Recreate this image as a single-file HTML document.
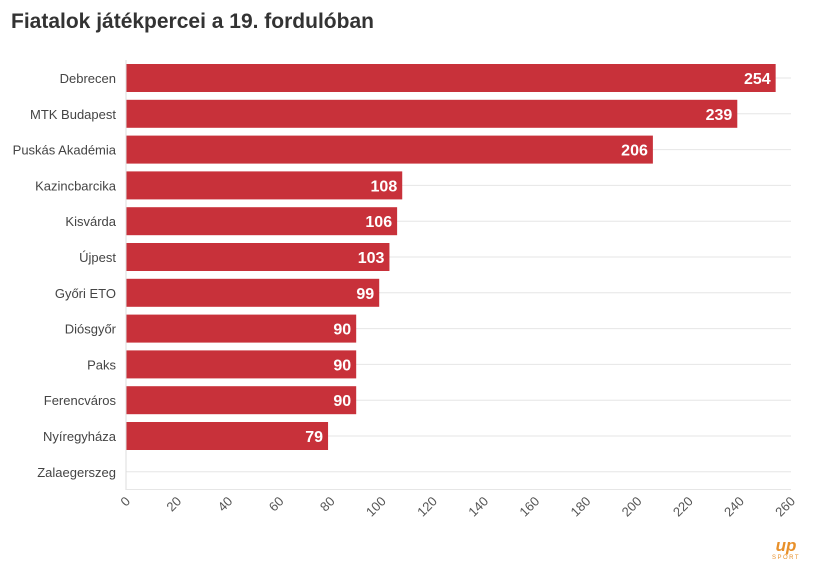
<!DOCTYPE html>
<html><head><meta charset="utf-8"><style>
body{margin:0;background:#fff;width:813px;height:579px;overflow:hidden;font-family:"Liberation Sans",sans-serif}
#title{position:absolute;left:11px;top:10px;font-size:21px;font-weight:bold;color:#333;letter-spacing:0px}
</style></head><body>
<div id="title">Fiatalok játékpercei a 19. fordulóban</div>
<svg id="chart" width="813" height="579" style="position:absolute;left:0;top:0"></svg>
<div style="position:absolute;left:772px;top:538px;color:#e8902a;text-align:center;">
<div style="font-size:17px;font-weight:bold;font-style:italic;line-height:16px">up</div>
<div style="font-size:6px;letter-spacing:1.5px;line-height:8px">SPORT</div></div>
<script>
const categories=["Debrecen","MTK Budapest","Puskás Akadémia","Kazincbarcika","Kisvárda","Újpest","Győri ETO","Diósgyőr","Paks","Ferencváros","Nyíregyháza","Zalaegerszeg"];
const values=[254,239,206,108,106,103,99,90,90,90,79,0];
const ticks=[0,20,40,60,80,100,120,140,160,180,200,220,240,260];
const svg=document.getElementById('chart');
const NS='http://www.w3.org/2000/svg';
const x0=126,x1=791,y0=78,step=35.8;
const xs=v=>x0+(x1-x0)*v/260;
const ys=i=>y0+i*step;
function mk(t,a){const e=document.createElementNS(NS,t);for(const k in a)e.setAttribute(k,a[k]);svg.appendChild(e);return e;}
categories.forEach((c,i)=>{
  const g=mk('line',{x1:x0,x2:x1,y1:ys(i),y2:ys(i),stroke:'#e6e6e6','stroke-width':1});
  
  
  const l=mk('text',{x:116,y:ys(i)+5,'text-anchor':'end','font-size':13,fill:'#444'});
  l.textContent=c;
  
  
  if(values[i]>0){
    const r=mk('rect',{x:x0,y:ys(i)-14,width:xs(values[i])-x0,height:28,fill:'#c8313a'});
    
    
    const v=mk('text',{x:xs(values[i])-5,y:ys(i)+6,'text-anchor':'end','font-size':16,'font-weight':'bold',fill:'#fff'});
    v.textContent=values[i];
    
    
  }
});
const ax=mk('line',{x1:x0,x2:x0,y1:60,y2:490,stroke:'#ddd'});


const bx=mk('line',{x1:x0,x2:x1,y1:489.5,y2:489.5,stroke:'#e6e6e6'});


ticks.forEach(t=>{
  const tx=xs(t)+5,ty=502;
  const e=mk('text',{x:tx,y:ty,'text-anchor':'end','font-size':13,fill:'#555',transform:`rotate(-45 ${tx} ${ty})`});
  e.textContent=t;
  
  
});
</script>
</body></html>
